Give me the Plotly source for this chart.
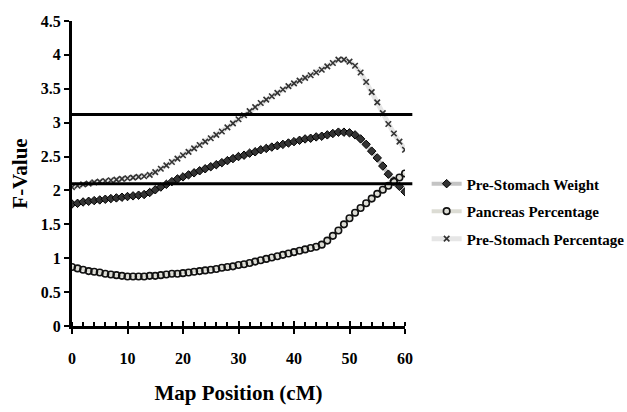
import plotly.graph_objects as go

map_position = [0, 1, 2, 3, 4, 5, 6, 7, 8, 9, 10, 11, 12, 13, 14, 15, 16, 17, 18, 19, 20,
                21, 22, 23, 24, 25, 26, 27, 28, 29, 30, 31, 32, 33, 34, 35, 36, 37, 38, 39, 40,
                41, 42, 43, 44, 45, 46, 47, 48, 49, 50, 51, 52, 53, 54, 55, 56, 57, 58, 59, 60]

pre_stomach_weight = [1.80, 1.81, 1.83, 1.84, 1.85, 1.86, 1.87, 1.88, 1.89, 1.90, 1.91,
                      1.92, 1.93, 1.94, 1.97, 2.01, 2.05, 2.09, 2.13, 2.17, 2.20,
                      2.23, 2.26, 2.29, 2.32, 2.35, 2.38, 2.41, 2.44, 2.47, 2.50,
                      2.52, 2.55, 2.57, 2.60, 2.62, 2.64, 2.66, 2.68, 2.70, 2.72,
                      2.74, 2.76, 2.77, 2.79, 2.80, 2.82, 2.84, 2.86, 2.86, 2.85,
                      2.82, 2.76, 2.68, 2.58, 2.48, 2.36, 2.24, 2.14, 2.06, 1.98]

pancreas_percentage = [0.87, 0.85, 0.83, 0.81, 0.80, 0.79, 0.77, 0.76, 0.75, 0.74, 0.73,
                       0.73, 0.73, 0.73, 0.74, 0.74, 0.75, 0.76, 0.77, 0.77, 0.78,
                       0.79, 0.80, 0.81, 0.82, 0.83, 0.84, 0.86, 0.87, 0.88, 0.90,
                       0.91, 0.93, 0.95, 0.97, 0.99, 1.01, 1.03, 1.05, 1.07, 1.09,
                       1.11, 1.13, 1.15, 1.17, 1.20, 1.26, 1.33, 1.41, 1.50, 1.59,
                       1.67, 1.74, 1.81, 1.88, 1.95, 2.01, 2.07, 2.13, 2.19, 2.25]

pre_stomach_percentage = [2.05, 2.07, 2.09, 2.10, 2.12, 2.13, 2.14, 2.15, 2.16, 2.17, 2.18,
                          2.19, 2.20, 2.21, 2.23, 2.27, 2.32, 2.37, 2.42, 2.47, 2.52,
                          2.57, 2.62, 2.67, 2.72, 2.77, 2.82, 2.87, 2.93, 2.99, 3.05,
                          3.11, 3.17, 3.23, 3.29, 3.34, 3.39, 3.44, 3.49, 3.54, 3.58,
                          3.62, 3.66, 3.70, 3.74, 3.78, 3.83, 3.88, 3.93, 3.93, 3.90,
                          3.84, 3.74, 3.60, 3.45, 3.30, 3.14, 2.98, 2.84, 2.72, 2.60]

thresholds = [3.12, 2.10]

x_ticks = [0, 10, 20, 30, 40, 50, 60]
y_ticks = [0, 0.5, 1, 1.5, 2, 2.5, 3, 3.5, 4, 4.5]

FONT = "Liberation Serif"

fig = go.Figure()

fig.add_trace(go.Scatter(
    x=map_position, y=pre_stomach_weight, name="<b>Pre-Stomach Weight</b>",
    mode="lines+markers", legendgroup="a",
    line=dict(color="#c4c4c4", width=4),
    marker=dict(symbol="diamond", size=6.5, color="#333333", line=dict(color="#000", width=1)),
))
fig.add_trace(go.Scatter(
    x=map_position, y=pancreas_percentage, name="<b>Pancreas Percentage</b>",
    mode="lines+markers", legendgroup="b",
    line=dict(color="#dcdcd4", width=4),
    marker=dict(symbol="circle-open", size=6.5, color="#111", line=dict(width=1.6)),
))
fig.add_trace(go.Scatter(
    x=map_position, y=pre_stomach_percentage, name="<b>Pre-Stomach Percentage</b>",
    mode="lines+markers", legendgroup="c",
    line=dict(color="#e6e6e6", width=5),
    marker=dict(symbol="x-thin", size=5.5, color="#333", line=dict(color="#333", width=1.6)),
))

for t in thresholds:
    fig.add_shape(type="line", xref="paper", yref="y", x0=0, x1=1.022, y0=t, y1=t,
                  line=dict(color="black", width=3), layer="above")

fig.update_layout(
    width=627, height=412,
    margin=dict(l=72, r=222, t=21, b=86, autoexpand=False),
    paper_bgcolor="white", plot_bgcolor="white",
    font=dict(family=FONT, size=16, color="black"),
    showlegend=True,
    legend=dict(x=1.065, y=0.52, xanchor="left", yanchor="top",
                font=dict(family=FONT, size=15, color="black"),
                traceorder="grouped", tracegroupgap=5,
                bgcolor="rgba(0,0,0,0)", itemwidth=30),
    xaxis=dict(
        range=[0, 60], showgrid=False, zeroline=False, automargin=False,
        showline=True, linecolor="black", linewidth=3,
        ticks="outside", ticklen=5, tickwidth=2, tickcolor="black",
        tickmode="array", tickvals=x_ticks,
        ticktext=["<b>%d</b>" % v for v in x_ticks],
        ticklabelstandoff=11,
        tickfont=dict(family=FONT, size=16),
        minor=dict(ticks="inside", dtick=2, ticklen=4, tickwidth=2, tickcolor="black"),
        title=dict(text="<b>Map Position (cM)</b>", font=dict(family=FONT, size=21), standoff=20),
    ),
    xaxis2=dict(
        range=[0, 60], overlaying="x", anchor="y", side="bottom", automargin=False,
        showgrid=False, zeroline=False, showline=False, showticklabels=False,
        ticks="inside", ticklen=5, tickwidth=2, tickcolor="black",
        tickmode="array", tickvals=x_ticks,
    ),
    yaxis=dict(
        range=[0, 4.5], showgrid=False, zeroline=False, automargin=False,
        showline=True, linecolor="black", linewidth=3,
        ticks="outside", ticklen=5, tickwidth=2, tickcolor="black",
        tickmode="array", tickvals=y_ticks,
        ticktext=["<b>%g</b>" % v for v in y_ticks],
        tickfont=dict(family=FONT, size=16),
        title=dict(text="<b>F-Value</b>", font=dict(family=FONT, size=21), standoff=8),
    ),
)

fig.add_trace(go.Scatter(x=[0], y=[0], xaxis="x2", mode="markers",
                         marker=dict(opacity=0), showlegend=False, hoverinfo="skip"))

fig.write_html("out.html", config={"displayModeBar": False},
               post_script="document.body.style.margin='0';document.body.style.padding='0';")
